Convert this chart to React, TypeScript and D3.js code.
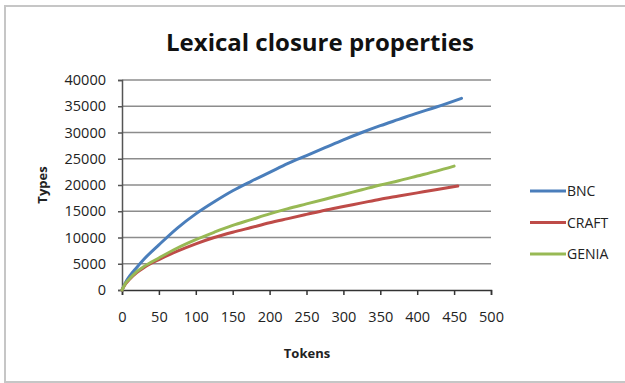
import React, { useEffect, useRef } from "react";
import * as d3 from "d3";

// Tokens (x) and types (y)
const bncTokens = [0, 5, 10, 20, 30, 50, 75, 100, 125, 150, 175, 200, 225, 250, 275, 300, 325, 350, 375, 400, 425, 460];
const bncTypes = [0, 1500, 2600, 4300, 5900, 8600, 11800, 14500, 16800, 18900, 20700, 22400, 24100, 25600, 27100, 28600, 30000, 31300, 32500, 33700, 34800, 36500];

const craftTokens = [0, 5, 10, 20, 30, 50, 75, 100, 125, 150, 175, 200, 225, 250, 275, 300, 325, 350, 375, 400, 425, 455];
const craftTypes = [0, 1200, 2000, 3300, 4300, 5800, 7400, 8800, 10000, 11000, 11900, 12800, 13600, 14400, 15200, 15900, 16600, 17300, 17900, 18500, 19100, 19800];

const geniaTokens = [0, 5, 10, 20, 30, 50, 75, 100, 125, 150, 175, 200, 225, 250, 275, 300, 325, 350, 375, 400, 425, 450];
const geniaTypes = [0, 1300, 2100, 3500, 4500, 6100, 8000, 9600, 11000, 12300, 13400, 14500, 15500, 16400, 17300, 18200, 19100, 20000, 20800, 21700, 22600, 23600];

const seriesNames = ["BNC", "CRAFT", "GENIA"];
const seriesColors = ["#4a7ebb", "#be4b48", "#98b954"];

const xTicks = [0, 50, 100, 150, 200, 250, 300, 350, 400, 450, 500];
const yTicks = [0, 5000, 10000, 15000, 20000, 25000, 30000, 35000, 40000];

const W = 625;
const H = 383;

const App: React.FC = () => {
  const ref = useRef<SVGSVGElement>(null);

  useEffect(() => {
    document.body.style.margin = "0";
    if (!ref.current) return;
    const svg = d3.select(ref.current);
    svg.selectAll("*").remove();

    const font = "'Open Sans', sans-serif";
    const plot = { left: 122, right: 491, top: 80, bottom: 290 };

    const x = d3.scaleLinear().domain([0, 500]).range([plot.left, plot.right]);
    const y = d3.scaleLinear().domain([0, 40000]).range([plot.bottom, plot.top]);

    // background + outer frame
    svg.append("rect").attr("width", W).attr("height", H).attr("fill", "#fff");
    svg
      .append("rect")
      .attr("x", 5)
      .attr("y", 6)
      .attr("width", 640)
      .attr("height", 376)
      .attr("fill", "none")
      .attr("stroke", "#c6c6c6")
      .attr("stroke-width", 2);

    // title
    svg
      .append("text")
      .attr("x", 320)
      .attr("y", 51)
      .attr("text-anchor", "middle")
      .attr("font-family", font)
      .attr("font-weight", "bold")
      .attr("font-size", 24)
      .attr("fill", "#111")
      .text("Lexical closure properties");

    // gridlines
    svg
      .append("g")
      .selectAll("line")
      .data(yTicks.filter((d) => d > 0))
      .enter()
      .append("line")
      .attr("x1", plot.left)
      .attr("x2", plot.right)
      .attr("y1", (d) => y(d))
      .attr("y2", (d) => y(d))
      .attr("stroke", "#8c8c8c")
      .attr("stroke-width", 1.5);

    // y axis
    const yAxis = svg
      .append("g")
      .attr("transform", `translate(${plot.left},0)`)
      .call(d3.axisLeft(y).tickValues(yTicks).tickSize(4).tickPadding(12).tickFormat(d3.format("d")));
    yAxis.select(".domain").attr("stroke", "#555").attr("stroke-width", 1.5);
    yAxis.selectAll(".tick line").attr("stroke", "#555").attr("stroke-width", 1.5);
    yAxis
      .selectAll(".tick text")
      .attr("font-family", font)
      .attr("font-size", 14.5)
      .attr("fill", "#222");

    // x axis
    const xAxis = svg
      .append("g")
      .attr("transform", `translate(0,${plot.bottom})`)
      .call(d3.axisBottom(x).tickValues(xTicks).tickSize(5).tickPadding(17).tickSizeOuter(5));
    xAxis.select(".domain").attr("stroke", "#333").attr("stroke-width", 1.5);
    xAxis.selectAll(".tick line").attr("stroke", "#333").attr("stroke-width", 1.5);
    xAxis
      .selectAll(".tick text")
      .attr("font-family", font)
      .attr("font-size", 14.5)
      .attr("fill", "#222");

    // axis titles
    svg
      .append("text")
      .attr("x", 307)
      .attr("y", 358)
      .attr("text-anchor", "middle")
      .attr("font-family", font)
      .attr("font-weight", "bold")
      .attr("font-size", 13)
      .attr("fill", "#222")
      .text("Tokens");
    svg
      .append("text")
      .attr("transform", `translate(47,${(plot.top + plot.bottom) / 2}) rotate(-90)`)
      .attr("text-anchor", "middle")
      .attr("font-family", font)
      .attr("font-weight", "bold")
      .attr("font-size", 13)
      .attr("fill", "#222")
      .text("Types");

    // series
    const series = [
      { xs: bncTokens, ys: bncTypes },
      { xs: craftTokens, ys: craftTypes },
      { xs: geniaTokens, ys: geniaTypes },
    ];
    const line = d3
      .line<[number, number]>()
      .x((d) => x(d[0]))
      .y((d) => y(d[1]))
      .curve(d3.curveMonotoneX);

    series.forEach((s, i) => {
      const pts = s.xs.map((t, j) => [t, s.ys[j]] as [number, number]);
      svg
        .append("path")
        .datum(pts)
        .attr("fill", "none")
        .attr("stroke", seriesColors[i])
        .attr("stroke-width", 3)
        .attr("stroke-linecap", "round")
        .attr("d", line);
    });

    // legend
    const legend = svg.append("g").attr("transform", "translate(530,191)");
    seriesNames.forEach((name, i) => {
      const g = legend.append("g").attr("transform", `translate(0,${i * 31.5})`);
      g.append("line")
        .attr("x1", 0)
        .attr("x2", 36)
        .attr("stroke", seriesColors[i])
        .attr("stroke-width", 3);
      g.append("text")
        .attr("x", 37)
        .attr("y", 5)
        .attr("font-family", font)
        .attr("font-size", 14)
        .attr("fill", "#222")
        .text(name);
    });
  }, []);

  return <svg ref={ref} width={W} height={H} style={{ display: "block" }} />;
};

export default App;
